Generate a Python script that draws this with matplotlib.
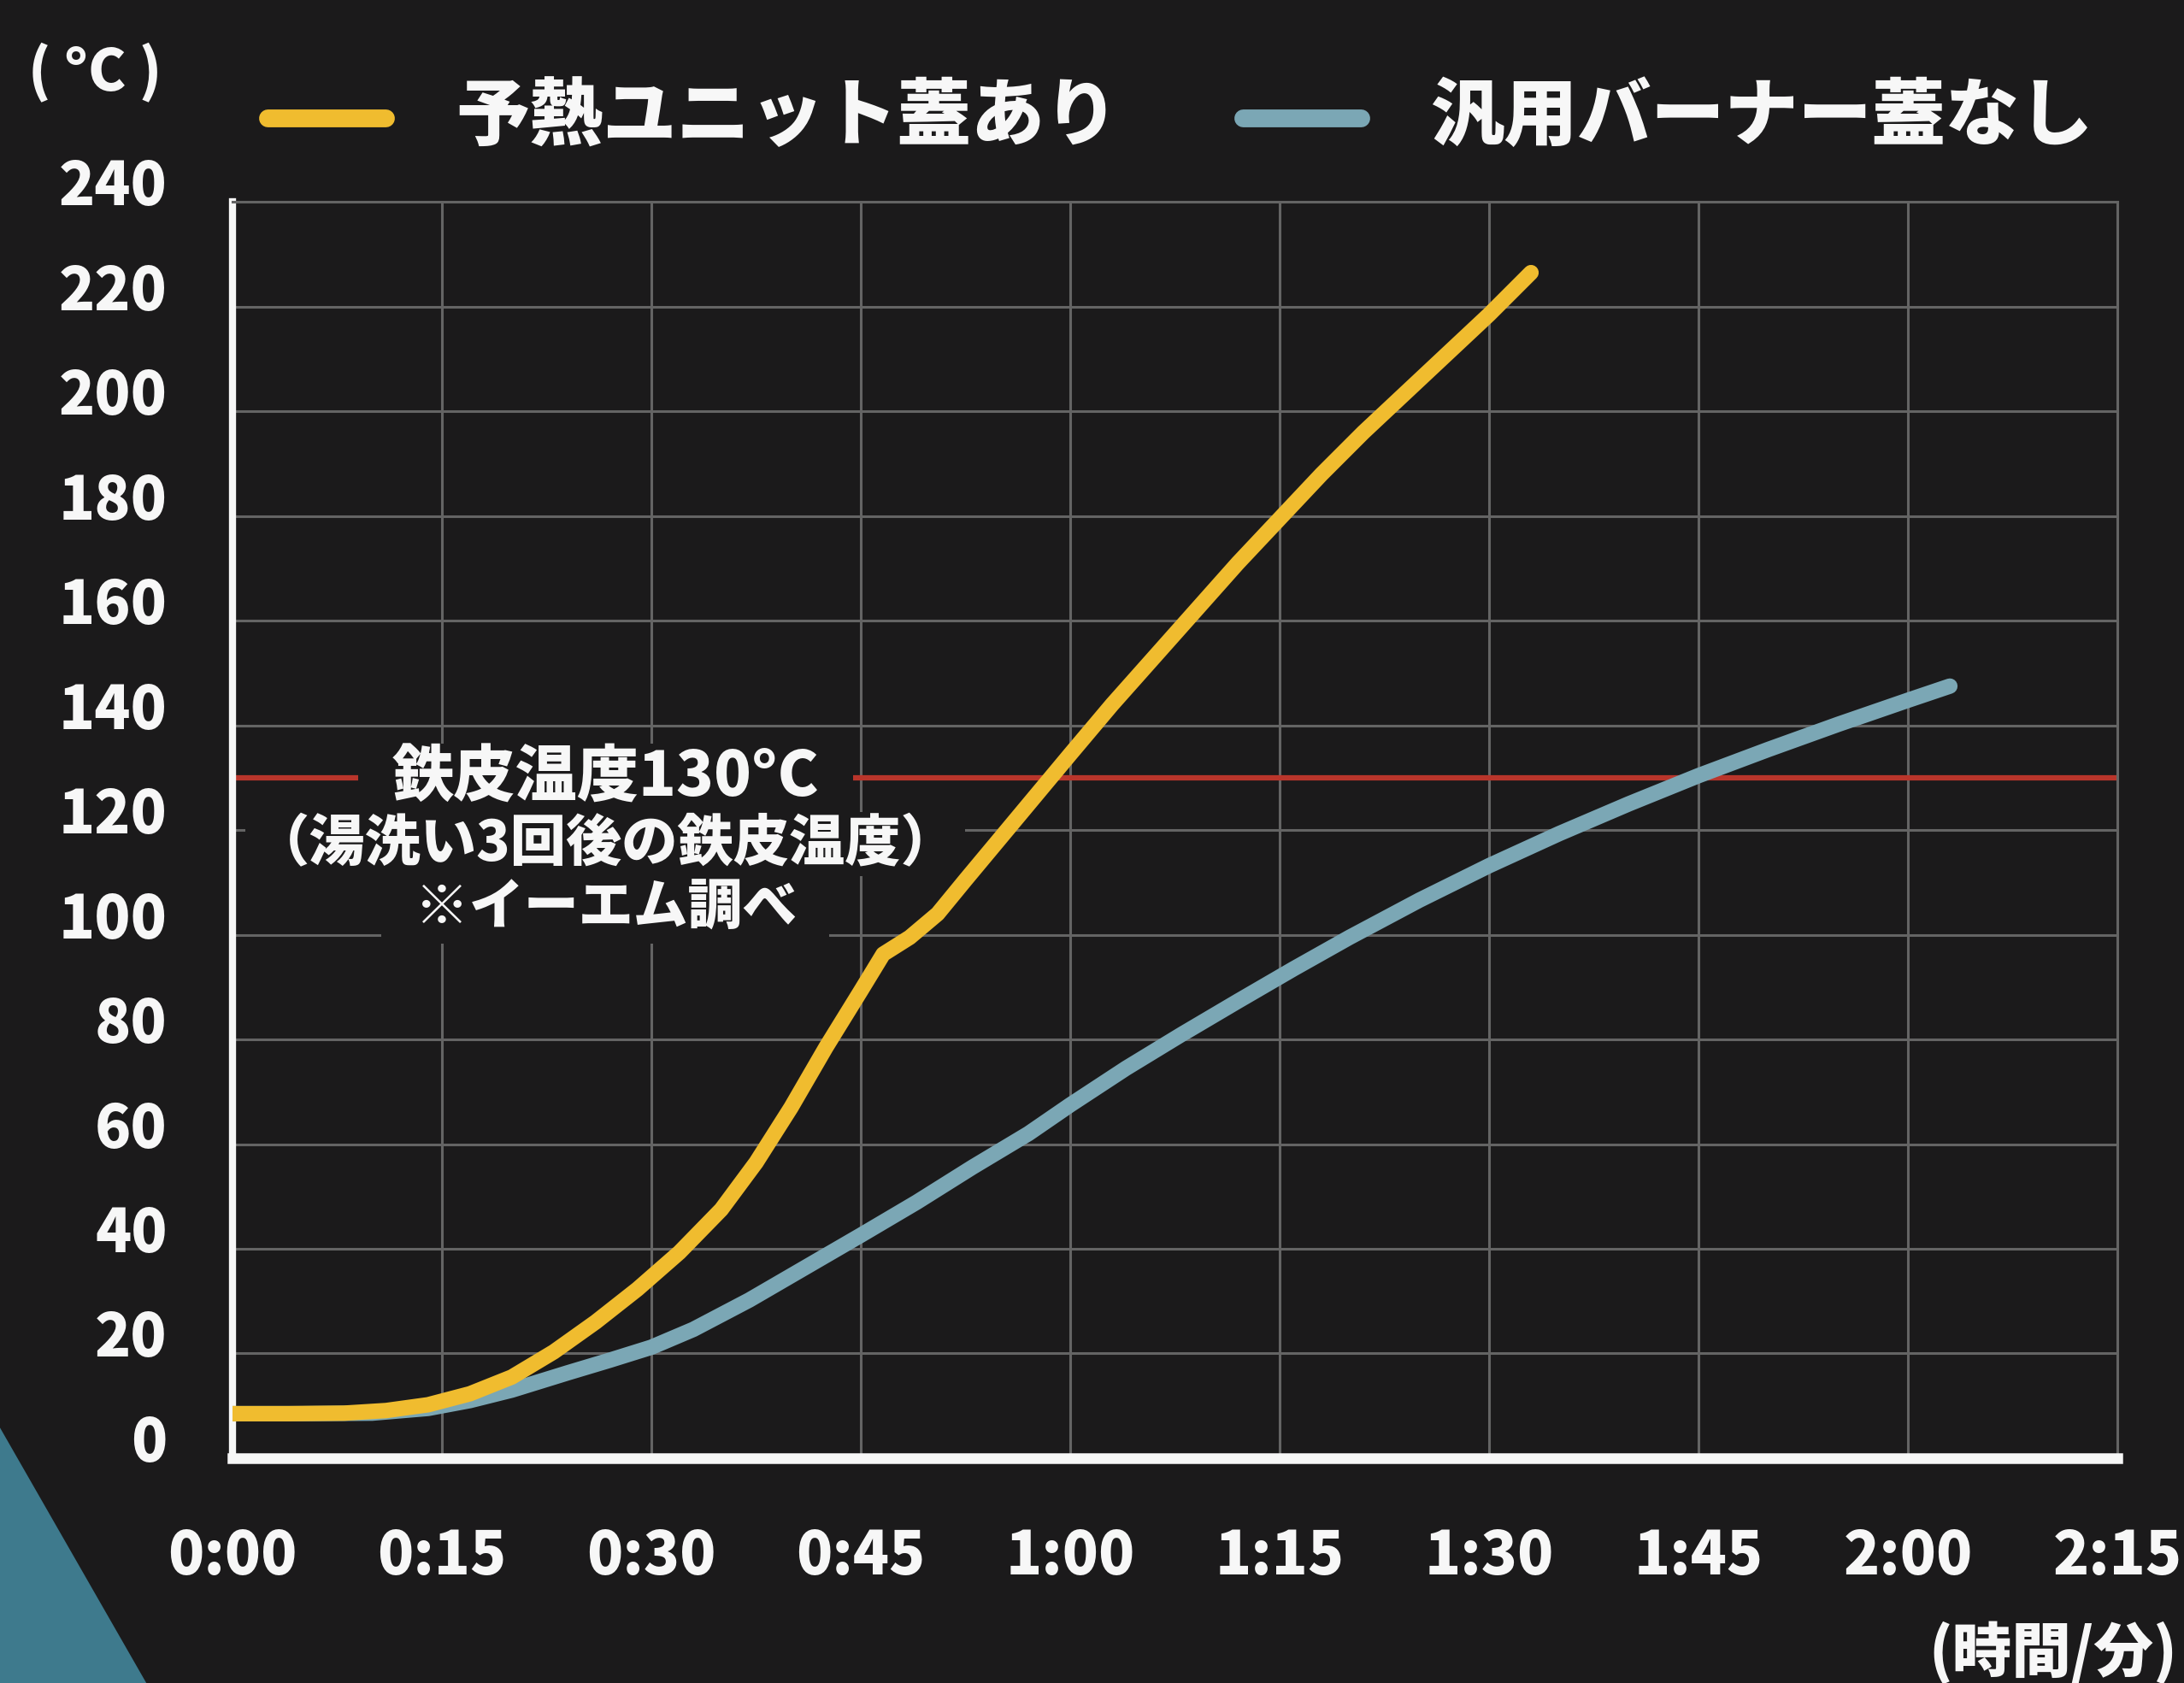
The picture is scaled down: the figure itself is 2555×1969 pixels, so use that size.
import matplotlib
matplotlib.use("Agg")
import matplotlib.pyplot as plt
from matplotlib.lines import Line2D
from matplotlib.patches import Polygon
from matplotlib.transforms import ScaledTranslation

plt.rcParams['font.family'] = ['Noto Sans CJK JP', 'DejaVu Sans']
plt.rcParams['font.weight'] = 'black'

# series names
label_unit = "予熱ユニット蓋あり"
label_burner = "汎用バーナー蓋なし"

# time in seconds, temperature in °C
unit_t = [0, 4, 8, 11, 14, 17, 20, 23, 26, 29, 32, 35, 37.5, 40, 42.5, 45, 46.6,
          48.5, 50.5, 52.5, 55, 57.5, 60, 63, 66, 69, 72, 75, 78, 81, 84, 87, 90, 93]
unit_temp = [8.5, 8.5, 8.6, 9.1, 10.2, 12.3, 15.5, 20.3, 26, 32.3, 39.3, 47.5, 56.5, 67, 78.5, 89.3, 96.3,
             99.5, 104, 110.5, 118.5, 126.5, 134.5, 144, 153, 162, 171, 179.5, 188, 196, 203.5, 211, 218.5, 226.5]

burner_t = [0, 5, 10, 14, 17, 20, 24, 27, 30, 33, 37, 41, 45, 49, 53, 57, 60, 64, 68,
            72, 76, 80, 85, 90, 95, 100, 105, 110, 115, 120, 123]
burner_temp = [8.5, 8.5, 8.6, 9.5, 11, 13, 16.3, 18.7, 21.2, 24.6, 30.2, 36.4, 42.6, 48.9, 55.6, 62, 67.5, 74.5, 81,
               87.3, 93.5, 99.5, 106.6, 113.2, 119.3, 125, 130.4, 135.4, 140.2, 144.8, 147.5]

x_ticks = [0, 15, 30, 45, 60, 75, 90, 105, 120, 135]
x_tick_labels = ["0:00", "0:15", "0:30", "0:45", "1:00", "1:15", "1:30", "1:45", "2:00", "2:15"]
y_ticks = [0, 20, 40, 60, 80, 100, 120, 140, 160, 180, 200, 220, 240]

threshold = 130
note_lines = ["鉄皮温度130°C", "（湯洗い3回後の鉄皮温度）", "※イーエム調べ"]

BG = "#1b1a1b"
YELLOW = "#f0bc2f"
BLUE = "#7ba7b5"
RED = "#b9352b"
GRID = "#646464"
TEAL = "#3e7a8d"
WHITE = "#f7f7f7"

fig = plt.figure(figsize=(25.55, 19.69), dpi=100, facecolor=BG)
ax = fig.add_axes([0.1065, 0.1336, 0.863, 0.7464], facecolor=BG)

# teal corner decoration
fig.add_artist(Polygon([[0, 0.1517], [0.067, 0], [0, 0]], closed=True,
                       transform=fig.transFigure, facecolor=TEAL, edgecolor='none', zorder=0))

ax.set_xlim(0, 135)
ax.set_ylim(0, 240)
ax.set_xticks(x_ticks)
ax.set_xticklabels(x_tick_labels)
ax.set_yticks(y_ticks)
ax.grid(True, color=GRID, linewidth=2.2)
ax.set_axisbelow(True)

for side in ['top', 'right']:
    ax.spines[side].set_color(GRID)
    ax.spines[side].set_linewidth(2.2)
ax.spines['left'].set_color(WHITE)
ax.spines['left'].set_linewidth(6)
ax.spines['bottom'].set_color(WHITE)
ax.spines['bottom'].set_linewidth(9)

ax.tick_params(axis='x', length=0, pad=58, labelsize=50, labelcolor=WHITE)
ax.tick_params(axis='y', length=0, pad=55, labelsize=50, labelcolor=WHITE)
for lbl in ax.get_yticklabels():
    lbl.set_fontweight('black')
    lbl.set_transform(lbl.get_transform() + ScaledTranslation(0, 0.24, fig.dpi_scale_trans))
for lbl in ax.get_xticklabels():
    lbl.set_fontweight('black')

ax.axhline(threshold, color=RED, linewidth=4.5, zorder=2)

ax.plot(burner_t, burner_temp, color=BLUE, linewidth=13, solid_capstyle='round',
        solid_joinstyle='round', zorder=8)
ax.plot(unit_t, unit_temp, color=YELLOW, linewidth=13, solid_capstyle='round',
        solid_joinstyle='round', zorder=9)

# annotation, each line masking the grid behind it
note_x = 26.7
ax.text(note_x, threshold, note_lines[0], ha='center', va='center', fontsize=52,
        color=WHITE, zorder=7,
        bbox=dict(boxstyle='square,pad=0.55', facecolor=BG, edgecolor='none', mutation_aspect=0.1))
ax.text(note_x, 117.3, note_lines[1], ha='center', va='center', fontsize=47,
        color=WHITE, zorder=6,
        bbox=dict(boxstyle='square,pad=0.15', facecolor=BG, edgecolor='none', mutation_aspect=0.5))
ax.text(note_x, 105, note_lines[2], ha='center', va='center', fontsize=46,
        color=WHITE, zorder=5,
        bbox=dict(boxstyle='square,pad=0.6', facecolor=BG, edgecolor='none', mutation_aspect=0.25))

# legend drawn at the top
fig.add_artist(Line2D([0.1227, 0.1764], [0.930, 0.930], color=YELLOW, linewidth=15,
                      solid_capstyle='round', transform=fig.transFigure))
fig.text(0.2086, 0.930, label_unit, ha='left', va='center', fontsize=62, color=WHITE)
fig.add_artist(Line2D([0.569, 0.623], [0.930, 0.930], color=BLUE, linewidth=15,
                      solid_capstyle='round', transform=fig.transFigure))
fig.text(0.655, 0.930, label_burner, ha='left', va='center', fontsize=62, color=WHITE)

fig.text(0.0434, 0.957, "( °C )", ha='center', va='center', fontsize=48, color=WHITE)
fig.text(0.997, 0.018, "(時間/分)", ha='right', va='center', fontsize=50, color=WHITE)

fig.savefig("out.png", dpi=100, facecolor=BG)
